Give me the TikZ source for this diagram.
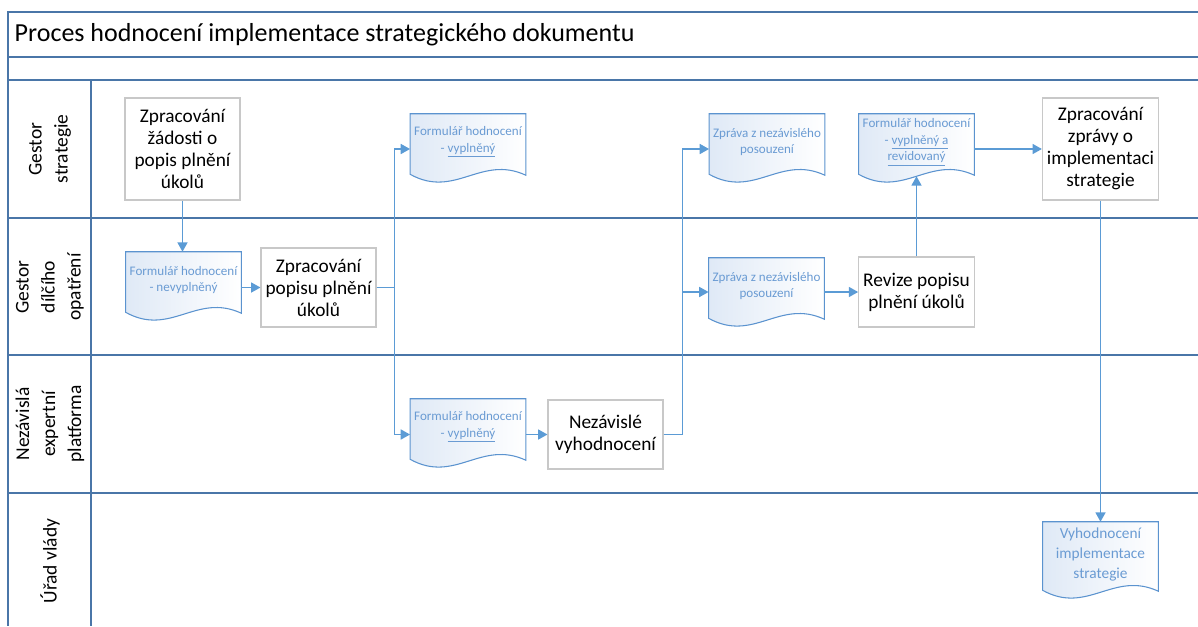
\documentclass[tikz,border=0pt]{standalone}
\usepackage{fontspec}
\setmainfont{Carlito}
\usetikzlibrary{arrows.meta, calc, backgrounds}
\definecolor{cLane}{HTML}{4A76A8}
\definecolor{cFlow}{HTML}{5B9BD5}
\definecolor{cDoc}{HTML}{5B93CF}
\definecolor{cDocFill}{HTML}{DFE9F6}
\definecolor{cDocText}{HTML}{6A9BD3}
\definecolor{cBox}{HTML}{C8C8C8}
\tikzset{
  pool/.style={draw=cLane, line width=1.4pt},
  lane/.style={draw=cLane, line width=1pt},
  lanelabel/.style={
    rotate=90, align=center, text=black,
    font=\fontsize{14.6}{19.5}\selectfont,
  },
  taskbox/.style={
    draw=cBox, fill=white, line width=0.8pt,
    minimum width=86.25pt, align=center,
    font=\fontsize{14.5}{16.5}\selectfont, text=black,
  },
  docnode/.style={
    minimum width=86.5pt, minimum height=42pt, inner sep=1pt,
    align=center, text=cDocText,
    font=\fontsize{9.8}{12.5}\selectfont,
  },
  docline/.style={
    draw=cDoc, line width=0.8pt,
    left color=cDocFill, right color=white,
  },
  conn/.style={draw=cFlow, line width=1.1pt, -{Triangle[length=7pt, width=7.5pt]}},
}

\begin{document}
\begin{tikzpicture}[x=0.75pt, y=-0.75pt]
  \useasboundingbox (0,0) rectangle (1198,626);

  % Pool and lanes
  \draw[pool] (1198,12) -- (8,12) -- (8,626);
  \draw[lane] (8,57) -- (1198,57);
  \draw[lane] (8,80) -- (1198,80);
  \draw[lane] (8,218) -- (1198,218);
  \draw[lane] (8,355) -- (1198,355);
  \draw[lane] (8,493) -- (1198,493);
  \draw[lane] (91,80) -- (91,626);

  \node[anchor=west, font=\fontsize{19.5}{23}\selectfont] (title) at (10,35)
    {Proces hodnocení implementace strategického dokumentu};

  % Lane labels
  \node[lanelabel] (gestor) at (50,149) {Gestor\\strategie};
  \node[lanelabel] (dilci) at (50,287) {Gestor\\dílčího\\opatření};
  \node[lanelabel] (platforma) at (50,424) {Nezávislá\\expertní\\platforma};
  \node[lanelabel] (urad) at (50,561) {Úřad vlády};

  % Tasks
  \node[taskbox, minimum height=76.5pt] (zadost) at (182.5,149)
    {Zpracování\\žádosti o\\popis plnění\\úkolů};
  \node[taskbox, minimum height=59.25pt] (popis) at (318.5,287.5)
    {Zpracování\\popisu plnění\\úkolů};
  \node[taskbox, minimum height=51.75pt] (nezav) at (605.5,434.5)
    {Nezávislé\\vyhodnocení};
  \node[taskbox, minimum height=52.5pt] (revize) at (916.5,292)
    {Revize popisu\\plnění úkolů};
  \node[taskbox, minimum height=76.5pt] (zprava) at (1100.5,149)
    {Zpracování\\zprávy o\\implementaci\\strategie};

  % Documents
  \node[docnode] (frm1) at (183.5,280) {Formulář hodnocení\\- nevyplněný};
  \node[docnode] (frm2) at (468,142) {Formulář hodnocení\\- \underline{vyplněný}};
  \node[docnode] (frm3) at (468,427) {Formulář hodnocení\\- \underline{vyplněný}};
  \node[docnode] (zpr1) at (767,142) {Zpráva z nezávislého\\posouzení};
  \node[docnode] (zpr2) at (766.5,286) {Zpráva z nezávislého\\posouzení};
  \node[docnode] (frm4) at (916.5,142)
    {Formulář hodnocení\\- \underline{vyplněný a}\\\underline{revidovaný}};
  \node[docnode, minimum height=48pt, font=\fontsize{11.5}{15}\selectfont] (vysl) at (1100.5,554)
    {Vyhodnocení\\implementace\\strategie};

  \begin{scope}[on background layer]
    \foreach \d in {frm1,frm2,frm3,zpr1,zpr2,frm4,vysl}
      \draw[docline] (\d.north west) -- (\d.north east) -- ($(\d.south east)+(0,5)$)
        .. controls ($(\d.south east)+(-45,-16)$) and ($(\d.south west)+(45,29)$)
        .. ($(\d.south west)+(0,4)$) -- cycle;
  \end{scope}

  % Flow
  \draw[conn] (zadost) -- (zadost |- frm1.north);
  \draw[conn] (frm1.east |- popis) -- (popis);
  \draw[conn] (popis.east) -- ++(18,0) |- (frm2.west |- zadost);
  \draw[conn] (popis.east) -- ++(18,0) |- (frm3.west |- nezav);
  \draw[conn] (frm3.east |- nezav) -- (nezav);
  \draw[conn] (nezav.east) -- ++(19,0) |- (zpr1.west |- zadost);
  \draw[conn] (nezav.east) -- ++(19,0) |- (zpr2.west |- revize);
  \draw[conn] (zpr2.east |- revize) -- (revize);
  \draw[conn] (revize.north) -- ($(frm4.south)+(0,6)$);
  \draw[conn] (frm4.east |- zprava) -- (zprava);
  \draw[conn] (zprava) -- (zprava |- vysl.north);

\end{tikzpicture}
\end{document}
